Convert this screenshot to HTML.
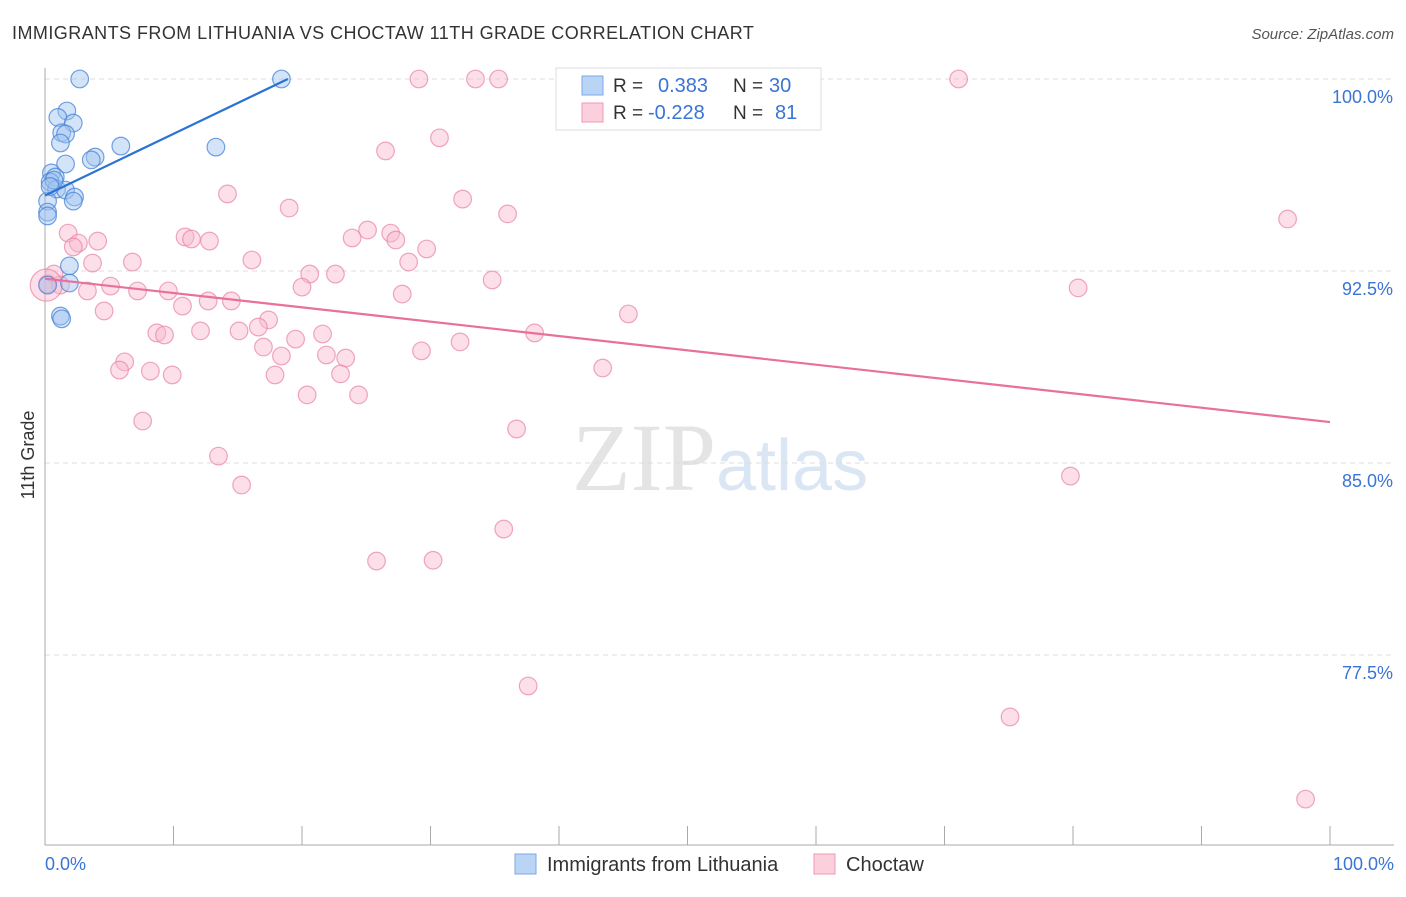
<!DOCTYPE html>
<html><head><meta charset="utf-8"><style>
body{margin:0;background:#fff;font-family:"Liberation Sans",sans-serif}
</style></head><body>
<svg id="c" width="1406" height="892" xmlns="http://www.w3.org/2000/svg" font-family="Liberation Sans, sans-serif">
<text x="12" y="39" font-size="18" letter-spacing="0.45" fill="#333">IMMIGRANTS FROM LITHUANIA VS CHOCTAW 11TH GRADE CORRELATION CHART</text>
<text x="1394" y="39" font-size="15" fill="#555" font-style="italic" text-anchor="end">Source: ZipAtlas.com</text>
<text x="716" y="490" font-size="96" fill="#e4e4e4" text-anchor="end" font-family="Liberation Serif, serif">ZIP</text>
<text x="716" y="490" font-size="72" fill="#dbe6f5">atlas</text>
<g id="grid"></g><g id="pts"></g>
<text transform="translate(34,455) rotate(-90)" font-size="18" fill="#333" text-anchor="middle">11th Grade</text>
<g>
<rect x="556" y="68" width="265" height="62" fill="#fff" stroke="#ddd"/>
<rect x="582" y="76" width="21" height="19" fill="#b9d4f5" stroke="#7aa8e6"/>
<rect x="582" y="103" width="21" height="19" fill="#fbcfdc" stroke="#ef9ab5"/>
<text x="613" y="92" font-size="19" fill="#333">R =</text><text x="658" y="92" font-size="20" fill="#3a74d4">0.383</text>
<text x="733" y="92" font-size="19" fill="#333">N =</text><text x="769" y="92" font-size="20" fill="#3a74d4">30</text>
<text x="613" y="119" font-size="19" fill="#333">R =</text><text x="648" y="119" font-size="20" fill="#3a74d4">-0.228</text>
<text x="733" y="119" font-size="19" fill="#333">N =</text><text x="775" y="119" font-size="20" fill="#3a74d4">81</text>
</g>
<g>
<rect x="515" y="854" width="21" height="20" fill="#b9d4f5" stroke="#7aa8e6"/>
<text x="547" y="871" font-size="20" fill="#333">Immigrants from Lithuania</text>
<rect x="814" y="854" width="21" height="20" fill="#fbcfdc" stroke="#ef9ab5"/>
<text x="846" y="871" font-size="20" fill="#333">Choctaw</text>
</g>
</svg>
<script>
const yTicks=[100,92.5,85,77.5];
const yTickLabels=["100.0%","92.5%","85.0%","77.5%"];
const xLabels=["0.0%","100.0%"];
const blueX=[2.7,18.4,1.7,1.0,2.2,1.3,1.6,1.2,5.9,13.3,3.9,3.6,1.6,0.5,0.8,0.4,0.9,1.6,2.3,2.2,0.2,0.2,0.2,1.9,1.9,0.2,1.2,1.3,0.7,0.4];
const blueY=[100,100,98.75,98.5,98.28,97.9,97.85,97.5,97.38,97.34,96.95,96.84,96.68,96.33,96.17,95.98,95.7,95.66,95.39,95.23,95.23,94.8,94.65,92.7,92.03,91.95,90.74,90.63,96.05,95.8];
const pinkX=[29.1,33.5,35.3,71.1,30.7,26.5,14.2,32.5,19.0,36.0,96.7,1.8,10.9,11.4,12.8,25.1,23.9,26.9,27.3,4.1,2.6,2.2,29.7,16.1,6.8,3.7,28.3,20.6,22.6,34.8,0.7,0.2,1.2,3.3,5.1,7.2,9.6,20.0,27.8,80.4,12.7,14.5,10.7,4.6,45.4,17.4,16.6,15.1,12.1,8.7,9.3,21.6,19.5,38.1,32.3,17.0,29.3,18.4,21.9,23.4,6.2,5.8,8.2,9.9,17.9,43.4,23.0,20.4,24.4,7.6,36.7,13.5,15.3,79.8,35.7,25.8,30.2,37.6,75.1,98.1,0.1];
const pinkY=[100,100,100,100,97.7,97.19,95.51,95.31,94.96,94.73,94.53,93.98,93.83,93.75,93.67,94.1,93.79,93.98,93.71,93.67,93.59,93.44,93.36,92.93,92.85,92.81,92.85,92.38,92.38,92.15,92.38,92.0,91.95,91.72,91.91,91.72,91.72,91.87,91.6,91.84,91.33,91.33,91.13,90.94,90.82,90.59,90.31,90.16,90.16,90.08,90.0,90.04,89.84,90.08,89.73,89.53,89.38,89.18,89.22,89.1,88.95,88.63,88.59,88.44,88.44,88.71,88.48,87.66,87.66,86.64,86.33,85.27,84.14,84.49,82.42,81.17,81.2,76.29,75.08,71.87,91.95];
const blueTrend=[95.45,100,0,18.9];
const pinkTrend=[92.2,86.6];
const NS="http://www.w3.org/2000/svg";
const L=45,R=1330,T=79;
const xs=v=>L+(R-L)*v/100;
const ys=v=>T+(100-v)*25.6;
function mk(t,a,p){const e=document.createElementNS(NS,t);for(const k in a)e.setAttribute(k,a[k]);p.appendChild(e);return e;}
const g=document.getElementById('grid'),P=document.getElementById('pts');
yTicks.forEach((v,i)=>{
 const l=mk('line',{x1:L,x2:1394,y1:ys(v),y2:ys(v),stroke:'#ddd','stroke-dasharray':'5,4'},g);
 
 
 const t=mk('text',{x:1393,y:ys(v)+24,'font-size':18,fill:'#3a74d4','text-anchor':'end'},g);t.textContent=yTickLabels[i];
 
 
});
const ax=mk('line',{x1:L,x2:L,y1:68,y2:845,stroke:'#aaa'},g);


const bx=mk('line',{x1:L,x2:1394,y1:845,y2:845,stroke:'#aaa'},g);


for(let i=0;i<=10;i++){const tk=mk('line',{x1:xs(i*10),x2:xs(i*10),y1:826,y2:845,stroke:'#aaa'},g);
 
 }
[[0,'start',45],[100,'end',1394]].forEach((d,i)=>{const t=mk('text',{x:d[2],y:870,'font-size':18,fill:'#3a74d4','text-anchor':d[1]},g);t.textContent=xLabels[i];
 
 });
pinkX.forEach((x,i)=>{const c=mk('circle',{cx:xs(x),cy:ys(pinkY[i]),r:i==pinkX.length-1?16:8.8,fill:'rgba(248,184,204,0.45)',stroke:'rgba(232,130,165,0.7)','stroke-width':1.2},P);
 
 });
blueX.forEach((x,i)=>{const c=mk('circle',{cx:xs(x),cy:ys(blueY[i]),r:8.8,fill:'rgba(160,196,240,0.45)',stroke:'rgba(70,130,215,0.75)','stroke-width':1.2},P);
 
 });
const pl=mk('line',{x1:xs(0),y1:ys(pinkTrend[0]),x2:xs(100),y2:ys(pinkTrend[1]),stroke:'#e8709a','stroke-width':2.2},P);


const bl=mk('line',{x1:xs(blueTrend[2]),y1:ys(blueTrend[0]),x2:xs(blueTrend[3]),y2:ys(blueTrend[1]),stroke:'#2a72d6','stroke-width':2.2},P);


</script>
</body></html>
